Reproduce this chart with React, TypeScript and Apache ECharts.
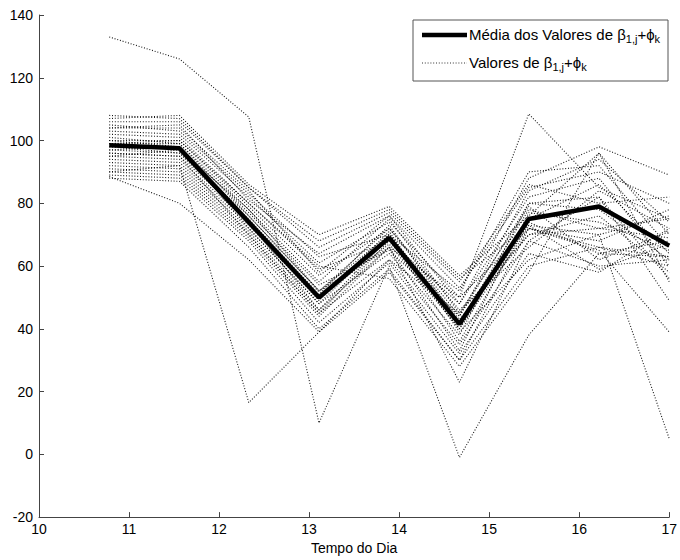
import React, { useEffect, useRef } from "react";
import * as echarts from "echarts";

const times = [10.78, 11.56, 12.33, 13.11, 13.89, 14.67, 15.44, 16.22, 17.0];

const meanValues = [98.5, 97.5, 74, 50, 69, 41.5, 75, 79, 66.5];

const s01 = [133, 126, 107.5, 10, 60, -1, 38, 64, 63];
const s02 = [90, 92, 16.5, 39, 62, 45, 70, 72, 75];
const s03 = [88.5, 80, 62, 39, 58, 30, 72, 66, 60];
const s04 = [95, 97, 78, 52, 66, 50, 108.5, 85, 75];
const s05 = [104, 104, 84, 58, 76, 48, 88, 98, 89];
const s06 = [100, 98, 72, 48, 70, 42, 73, 70, 5];
const s07 = [96, 95, 70, 45, 68, 40, 72, 65, 39];
const s08 = [101, 99, 76, 52, 72, 44, 80, 82, 49];
const s09 = [98, 96, 74, 46, 66, 23, 68, 60, 62];
const s10 = [107, 108, 86, 70, 79, 57, 76, 96, 70];
const s11 = [106, 106, 85, 66, 77, 55, 86, 80, 82];
const s12 = [105, 103, 83, 63, 70, 52, 90, 92, 66];
const s13 = [103, 102, 82, 61, 74, 50, 72, 68, 78];
const s14 = [102, 101, 80, 59, 68, 48, 82, 88, 60];
const s15 = [100, 100, 79, 57, 72, 46, 66, 84, 72];
const s16 = [99, 99, 78, 55, 75, 45, 79, 62, 71];
const s17 = [97, 98, 77, 54, 65, 44, 84, 94, 74];
const s18 = [97, 96, 76, 52, 70, 43, 70, 76, 58];
const s19 = [96, 95, 75, 51, 73, 42, 78, 72, 69];
const s20 = [95, 94, 74, 50, 67, 40, 75, 86, 64];
const s21 = [94, 93, 73, 49, 71, 39, 62, 70, 76];
const s22 = [93, 92, 72, 48, 64, 38, 80, 78, 62];
const s23 = [92, 91, 71, 46, 69, 36, 74, 64, 68];
const s24 = [91, 90, 70, 45, 62, 35, 68, 82, 56];
const s25 = [90, 89, 69, 44, 66, 33, 77, 74, 65];
const s26 = [89, 88, 68, 42, 61, 32, 64, 58, 72];
const s27 = [88, 87, 66, 40, 59, 30, 60, 66, 63];
const s28 = [108, 107, 85, 68, 78, 56, 73, 59, 67];
const s29 = [104, 105, 81, 64, 76, 53, 85, 90, 80];
const s30 = [99, 100, 80, 60, 56, 28, 58, 96, 55];

const daySeries = [
  s01, s02, s03, s04, s05, s06, s07, s08, s09, s10,
  s11, s12, s13, s14, s15, s16, s17, s18, s19, s20,
  s21, s22, s23, s24, s25, s26, s27, s28, s29, s30,
];

const xTicks = { min: 10, max: 17, interval: 1 };
const yTicks = { min: -20, max: 140, interval: 20 };

const xName = "Tempo do Dia";
const meanName = "Média dos Valores de β1,j+ϕk";
const dayName = "Valores de β1,j+ϕk";

const FONT = "'Liberation Sans', Arial, Helvetica, sans-serif";

export default function App() {
  const ref = useRef<HTMLDivElement>(null);

  useEffect(() => {
    if (!ref.current) return;
    const chart = echarts.init(ref.current, undefined, { renderer: "svg" });

    const pair = (vals: number[]) => vals.map((v, i) => [times[i], v]);

    const dotted = daySeries.map((vals) => ({
      name: dayName,
      type: "line",
      data: pair(vals),
      symbol: "none",
      showSymbol: false,
      silent: true,
      z: 2,
      lineStyle: { color: "#000", width: 1.1, type: [1, 1.8], opacity: 0.9 },
    }));

    const rich = {
      base: { fontSize: 15, fontFamily: FONT, color: "#000", lineHeight: 20 },
      sub: {
        fontSize: 11,
        fontFamily: FONT,
        color: "#000",
        lineHeight: 10,
        verticalAlign: "bottom",
      },
    };

    const legendX = 413;
    const legendY = 20;

    const option = {
      animation: false,
      backgroundColor: "#fff",
      grid: { left: 39, right: 7, top: 15, bottom: 42, containLabel: false },
      xAxis: {
        type: "value",
        min: xTicks.min,
        max: xTicks.max,
        interval: xTicks.interval,
        name: xName,
        nameLocation: "middle",
        nameGap: 23,
        nameTextStyle: { fontSize: 14, fontFamily: FONT, color: "#000" },
        axisLine: { show: true, onZero: false, lineStyle: { color: "#444", width: 1 } },
        axisTick: { show: true, inside: true, length: 5, lineStyle: { color: "#444" } },
        axisLabel: { fontSize: 14, fontFamily: FONT, color: "#000", margin: 5 },
        splitLine: { show: false },
      },
      yAxis: {
        type: "value",
        min: yTicks.min,
        max: yTicks.max,
        interval: yTicks.interval,
        axisLine: { show: true, onZero: false, lineStyle: { color: "#444", width: 1 } },
        axisTick: { show: true, inside: true, length: 5, lineStyle: { color: "#444" } },
        axisLabel: { fontSize: 14, fontFamily: FONT, color: "#000", margin: 6 },
        splitLine: { show: false },
      },
      series: [
        ...dotted,
        {
          name: meanName,
          type: "line",
          data: pair(meanValues),
          symbol: "none",
          showSymbol: false,
          silent: true,
          z: 5,
          lineStyle: { color: "#000", width: 4.5, type: "solid" },
        },
      ],
      graphic: [
        {
          type: "rect",
          z: 100,
          shape: { x: legendX, y: legendY, width: 255, height: 61 },
          style: { fill: "#fff", stroke: "#555", lineWidth: 1 },
        },
        {
          type: "line",
          z: 101,
          shape: { x1: legendX + 9, y1: legendY + 15, x2: legendX + 54, y2: legendY + 15 },
          style: { stroke: "#000", lineWidth: 4.5 },
        },
        {
          type: "line",
          z: 101,
          shape: { x1: legendX + 9, y1: legendY + 43, x2: legendX + 54, y2: legendY + 43 },
          style: { stroke: "#333", lineWidth: 1, lineDash: [1, 1.8] },
        },
        {
          type: "text",
          z: 101,
          x: legendX + 56,
          y: legendY + 14,
          style: {
            text: "{base|Média dos Valores de β}{sub|1,j}{base|+ϕ}{sub|k}",
            rich,
            verticalAlign: "middle",
            align: "left",
          },
        },
        {
          type: "text",
          z: 101,
          x: legendX + 56,
          y: legendY + 42,
          style: {
            text: "{base|Valores de β}{sub|1,j}{base|+ϕ}{sub|k}",
            rich,
            verticalAlign: "middle",
            align: "left",
          },
        },
      ],
    };

    chart.setOption(option as any);
    return () => chart.dispose();
  }, []);

  return (
    <div
      ref={ref}
      style={{ position: "fixed", left: 0, top: 0, width: 680, height: 560, background: "#fff" }}
    />
  );
}
